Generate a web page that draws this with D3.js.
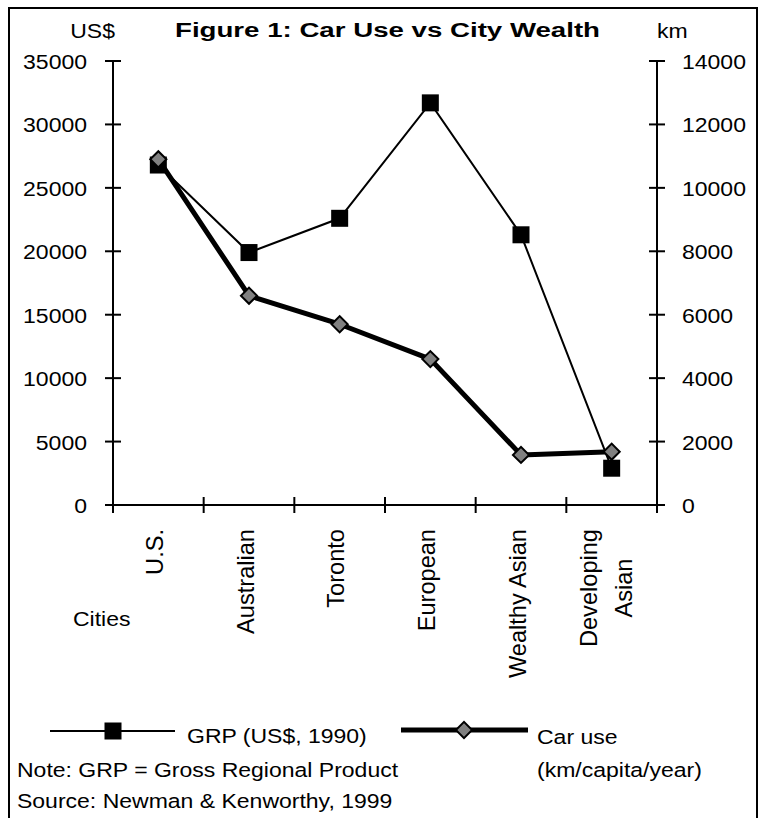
<!DOCTYPE html>
<html>
<head>
<meta charset="utf-8">
<script src="https://cdn.jsdelivr.net/npm/d3@7"></script>
<style>
  body { margin: 0; background: #fff; }
  svg text { font-family: Arial, "Liberation Sans", sans-serif; fill: #000; }
</style>
</head>
<body>
<svg id="chart" width="761" height="818"></svg>
<script>
// chart data
var cities = ["U.S.", "Australian", "Toronto", "European", "Wealthy Asian", "Developing Asian"];
var cityLabels = [["U.S."], ["Australian"], ["Toronto"], ["European"], ["Wealthy Asian"], ["Developing", "Asian"]];
var grp = [26800, 19900, 22600, 31700, 21300, 2900];      // US$, 1990 (left axis)
var carUse = [10900, 6600, 5700, 4600, 1580, 1680];       // km/capita/year (right axis)
var leftTicks = [0, 5000, 10000, 15000, 20000, 25000, 30000, 35000];
var rightTicks = [0, 2000, 4000, 6000, 8000, 10000, 12000, 14000];

var svg = d3.select("#chart");
var sx = 1.18;   // the original text is drawn a bit wide

svg.append("rect")
    .attr("x", 9).attr("y", 8)
    .attr("width", 748).attr("height", 840)
    .attr("fill", "none").attr("stroke", "#000").attr("stroke-width", 2);

var pLeft = 113, pRight = 657, pTop = 61, pBottom = 505;

var x = d3.scaleBand().domain(cities).range([pLeft, pRight]).padding(0);
var yL = d3.scaleLinear().domain([0, 35000]).range([pBottom, pTop]);
var yR = d3.scaleLinear().domain([0, 14000]).range([pBottom, pTop]);

function label(txt, px, py, anchor, size, weight) {
  var g = svg.append("g").attr("transform", "translate(" + px + "," + py + ") scale(" + sx + ",1)");
  return g.append("text")
      .attr("text-anchor", anchor || "start")
      .style("font-size", (size || 19.5) + "px")
      .style("font-weight", weight || "normal")
      .text(txt);
}

// axes: ticks cross the axis line, so draw them by hand from the scales
var axes = svg.append("g").attr("stroke", "#000").attr("stroke-width", 2);
axes.append("line").attr("x1", pLeft).attr("x2", pLeft).attr("y1", yL(35000)).attr("y2", yL(0));
axes.append("line").attr("x1", pRight).attr("x2", pRight).attr("y1", yR(14000)).attr("y2", yR(0));
axes.append("line").attr("x1", pLeft - 8).attr("x2", pRight + 8).attr("y1", pBottom).attr("y2", pBottom);

axes.selectAll(".lt").data(leftTicks).enter().append("line")
    .attr("x1", pLeft - 8).attr("x2", pLeft + 8)
    .attr("y1", function(d) { return yL(d); }).attr("y2", function(d) { return yL(d); });
axes.selectAll(".rt").data(rightTicks).enter().append("line")
    .attr("x1", pRight - 8).attr("x2", pRight + 8)
    .attr("y1", function(d) { return yR(d); }).attr("y2", function(d) { return yR(d); });

var bounds = cities.map(function(c) { return x(c); }).concat([pRight]);
axes.selectAll(".xt").data(bounds).enter().append("line")
    .attr("x1", function(d) { return d; }).attr("x2", function(d) { return d; })
    .attr("y1", pBottom - 8).attr("y2", pBottom + 8);

leftTicks.forEach(function(t) { label(t, 87, yL(t) + 8, "end"); });
rightTicks.forEach(function(t) { label(t, 682, yR(t) + 8, "start"); });

// category labels, rotated
cityLabels.forEach(function(lines, i) {
  var cx = x(cities[i]) + x.bandwidth() / 2;
  if (lines.length == 1) {
    svg.append("text")
        .attr("transform", "translate(" + (cx + 4.5) + ",529) rotate(-90)")
        .attr("text-anchor", "end")
        .style("font-size", "23.6px")
        .text(lines[0]);
  } else {
    var g = svg.append("g");
    var texts = lines.map(function(l, k) {
      return g.append("text")
          .attr("text-anchor", "middle")
          .style("font-size", "23.6px")
          .text(l);
    });
    var maxLen = d3.max(texts, function(t) { return t.node().getComputedTextLength(); });
    texts.forEach(function(t, k) {
      t.attr("transform", "translate(" + (cx - 15 + k * 35) + "," + (529 + maxLen / 2) + ") rotate(-90)");
    });
  }
});

// series
var midX = function(d, i) { return x(cities[i]) + x.bandwidth() / 2; };

svg.append("path")
    .datum(grp)
    .attr("fill", "none").attr("stroke", "#000").attr("stroke-width", 2)
    .attr("d", d3.line().x(midX).y(function(d) { return yL(d); }));

svg.append("path")
    .datum(carUse)
    .attr("fill", "none").attr("stroke", "#000").attr("stroke-width", 5)
    .attr("stroke-linejoin", "round")
    .attr("d", d3.line().x(midX).y(function(d) { return yR(d); }));

svg.selectAll(".sq").data(grp).enter().append("rect")
    .attr("x", function(d, i) { return midX(d, i) - 8.5; })
    .attr("y", function(d) { return yL(d) - 8.5; })
    .attr("width", 17).attr("height", 17)
    .attr("fill", "#000");

var diamond = d3.symbol().type(d3.symbolSquare).size(130);
svg.selectAll(".dm").data(carUse).enter().append("path")
    .attr("d", diamond)
    .attr("transform", function(d, i) { return "translate(" + midX(d, i) + "," + yR(d) + ") rotate(45)"; })
    .attr("fill", "#808080").attr("stroke", "#000").attr("stroke-width", 2);

// titles
svg.append("text")
    .attr("x", 175).attr("y", 37)
    .attr("textLength", 425).attr("lengthAdjust", "spacingAndGlyphs")
    .style("font-size", "20px").style("font-weight", "bold")
    .text("Figure 1: Car Use vs City Wealth");
label("US$", 115, 38, "end");
label("km", 657, 38, "start");
label("Cities", 73, 626, "start");

// legend
svg.append("line").attr("x1", 50).attr("x2", 175).attr("y1", 731).attr("y2", 731)
    .attr("stroke", "#000").attr("stroke-width", 2);
svg.append("rect").attr("x", 104.5).attr("y", 722.5).attr("width", 17).attr("height", 17).attr("fill", "#000");
label("GRP (US$, 1990)", 187, 743, "start");

svg.append("line").attr("x1", 401).attr("x2", 528).attr("y1", 730).attr("y2", 730)
    .attr("stroke", "#000").attr("stroke-width", 5);
svg.append("path").attr("d", diamond)
    .attr("transform", "translate(464,730) rotate(45)")
    .attr("fill", "#808080").attr("stroke", "#000").attr("stroke-width", 2);
label("Car use", 537, 744, "start");
label("(km/capita/year)", 537, 777, "start");

label("Note: GRP = Gross Regional Product", 17, 777, "start");
label("Source: Newman & Kenworthy, 1999", 17, 808, "start");
</script>
</body>
</html>
